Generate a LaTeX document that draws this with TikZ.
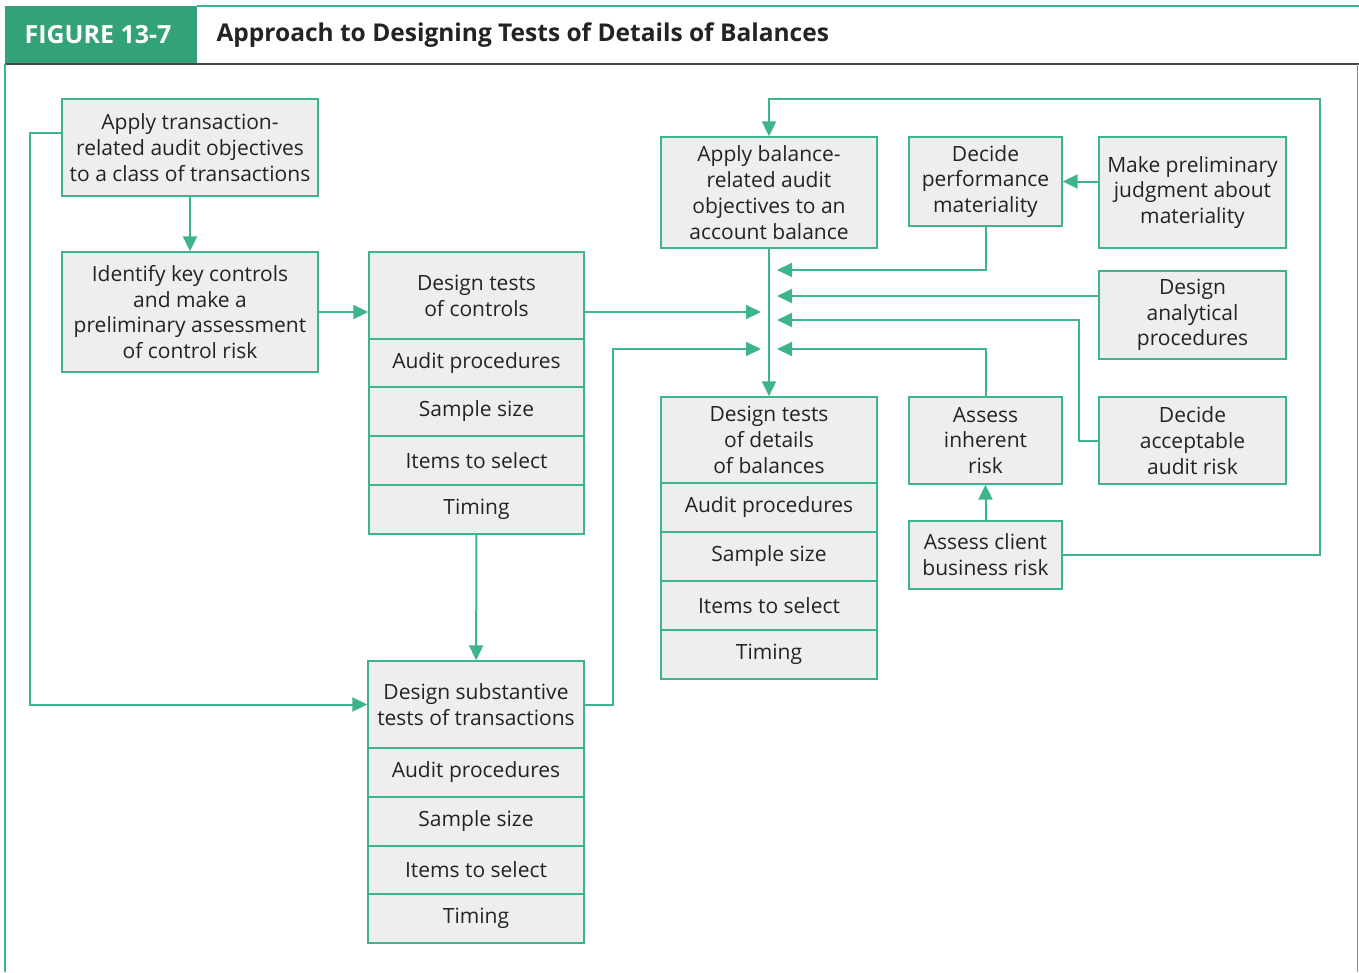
\documentclass[tikz,border=0pt]{standalone}
\usepackage{fontspec}
\setmainfont{Open Sans}
\usetikzlibrary{arrows.meta,calc}
\definecolor{grn}{RGB}{62,180,138}
\definecolor{hdr}{RGB}{52,162,120}
\definecolor{cellfill}{RGB}{236,239,238}
\definecolor{ink}{RGB}{35,35,35}
\definecolor{rule}{RGB}{70,70,70}

% one box or stack cell: name, centre x, centre y, width, height, text
\newcommand\cellbox[6]{\node[box,minimum width=#4,minimum height=#5] (#1) at (#2,#3) {#6};}

\begin{document}
\begin{tikzpicture}[x=1pt,y=-1pt,
  box/.style={draw=grn, fill=cellfill, line width=1.4pt, align=center, inner sep=0pt,
              text=ink, font=\fontsize{21}{25.8}\selectfont},
  link/.style={draw=grn, line width=2pt, -{Triangle[length=15pt,width=14pt]}}]

\useasboundingbox (0,0) rectangle (1359,972);
\fill[white] (0,0) rectangle (1359,972);

% header band
\fill[hdr] (5,6) rectangle (197,64);
\draw[grn, line width=2pt] (197,6) -- (1359,6);
\draw[rule, line width=2pt] (5,64) -- (1359,64);
\draw[grn, line width=1.5pt] (5,64) -- (5,972);
\draw[grn, line width=1.5pt] (1357.5,64) -- (1357.5,972);
\node[text=white, font=\bfseries\fontsize{25}{29}\selectfont] (fig) at (98,35) {FIGURE 13-7};
\node[anchor=west, text=ink, font=\bfseries\fontsize{24.5}{29}\selectfont] (title) at (213,35)
  {Approach to Designing Tests of Details of Balances};

% transaction side
\cellbox{A}{190}{147.5}{256}{97}{Apply transaction-\\related audit objectives\\to a class of transactions}
\cellbox{B}{190}{312}{256}{120}{Identify key controls\\and make a\\preliminary assessment\\of control risk}

% tests of controls
\cellbox{C0}{476.5}{295.5}{215}{87}{Design tests\\of controls}
\cellbox{C1}{476.5}{363}{215}{48}{Audit procedures}
\cellbox{C2}{476.5}{411.5}{215}{49}{Sample size}
\cellbox{C3}{476.5}{460.5}{215}{49}{Items to select}
\cellbox{C4}{476.5}{509.5}{215}{49}{Timing}

% substantive tests of transactions
\cellbox{D0}{476}{704.5}{216}{87}{Design substantive\\tests of transactions}
\cellbox{D1}{476}{772.5}{216}{49}{Audit procedures}
\cellbox{D2}{476}{821.5}{216}{49}{Sample size}
\cellbox{D3}{476}{870}{216}{48}{Items to select}
\cellbox{D4}{476}{918.5}{216}{49}{Timing}

% balance side
\cellbox{E}{769}{192.5}{216}{111}{Apply balance-\\related audit\\objectives to an\\account balance}
\cellbox{F}{985.5}{181.5}{153}{89}{Decide\\performance\\materiality}
\cellbox{G}{1192.5}{192.5}{187}{111}{Make preliminary\\judgment about\\materiality}
\cellbox{H}{1192.5}{315}{187}{88}{Design\\analytical\\procedures}
\cellbox{I}{1192.5}{440.5}{187}{87}{Decide\\acceptable\\audit risk}
\cellbox{J}{985.5}{440.5}{153}{87}{Assess\\inherent\\risk}
\cellbox{K}{985.5}{555}{153}{68}{Assess client\\business risk}

% tests of details of balances
\cellbox{L0}{769}{440}{216}{86}{Design tests\\of details\\of balances}
\cellbox{L1}{769}{507.5}{216}{49}{Audit procedures}
\cellbox{L2}{769}{556.5}{216}{49}{Sample size}
\cellbox{L3}{769}{605.5}{216}{49}{Items to select}
\cellbox{L4}{769}{654.5}{216}{49}{Timing}

% arrow tips beside the central trunk
\coordinate (jl1) at (761,312);
\coordinate (jl2) at (761,349);
\coordinate (jr1) at (777,270);
\coordinate (jr2) at (777,296);
\coordinate (jr3) at (777,320);
\coordinate (jr4) at (777,349);
\coordinate (leftrail) at (30,0);
\coordinate (toprail) at (1320,99);
\coordinate (aout) at ($(A.north west)!0.35!(A.south west)$);

% connectors
\draw[link] (A) -- (B);
\draw[link] (B.east) -- (B.east -| C0.west);
\draw[link] (aout) -- (aout -| leftrail) |- (D0.west);
\draw[link] (C4) -- (D0);
\draw[link] (C0.east |- jl1) -- (jl1);
\draw[link] (D0.east) -- ++(28,0) |- (jl2);
\draw[link] (E) -- (L0);
\draw[link] (F.south) |- (jr1);
\draw[link] (G.west |- F.east) -- (F.east);
\draw[link] (H.west |- jr2) -- (jr2);
\draw[link] (I.west) -- ++(-19,0) |- (jr3);
\draw[link] (J.north) |- (jr4);
\draw[link] (K) -- (J);
\draw[link] (K.east) -| (toprail) -| (E.north);
\end{tikzpicture}
\end{document}
